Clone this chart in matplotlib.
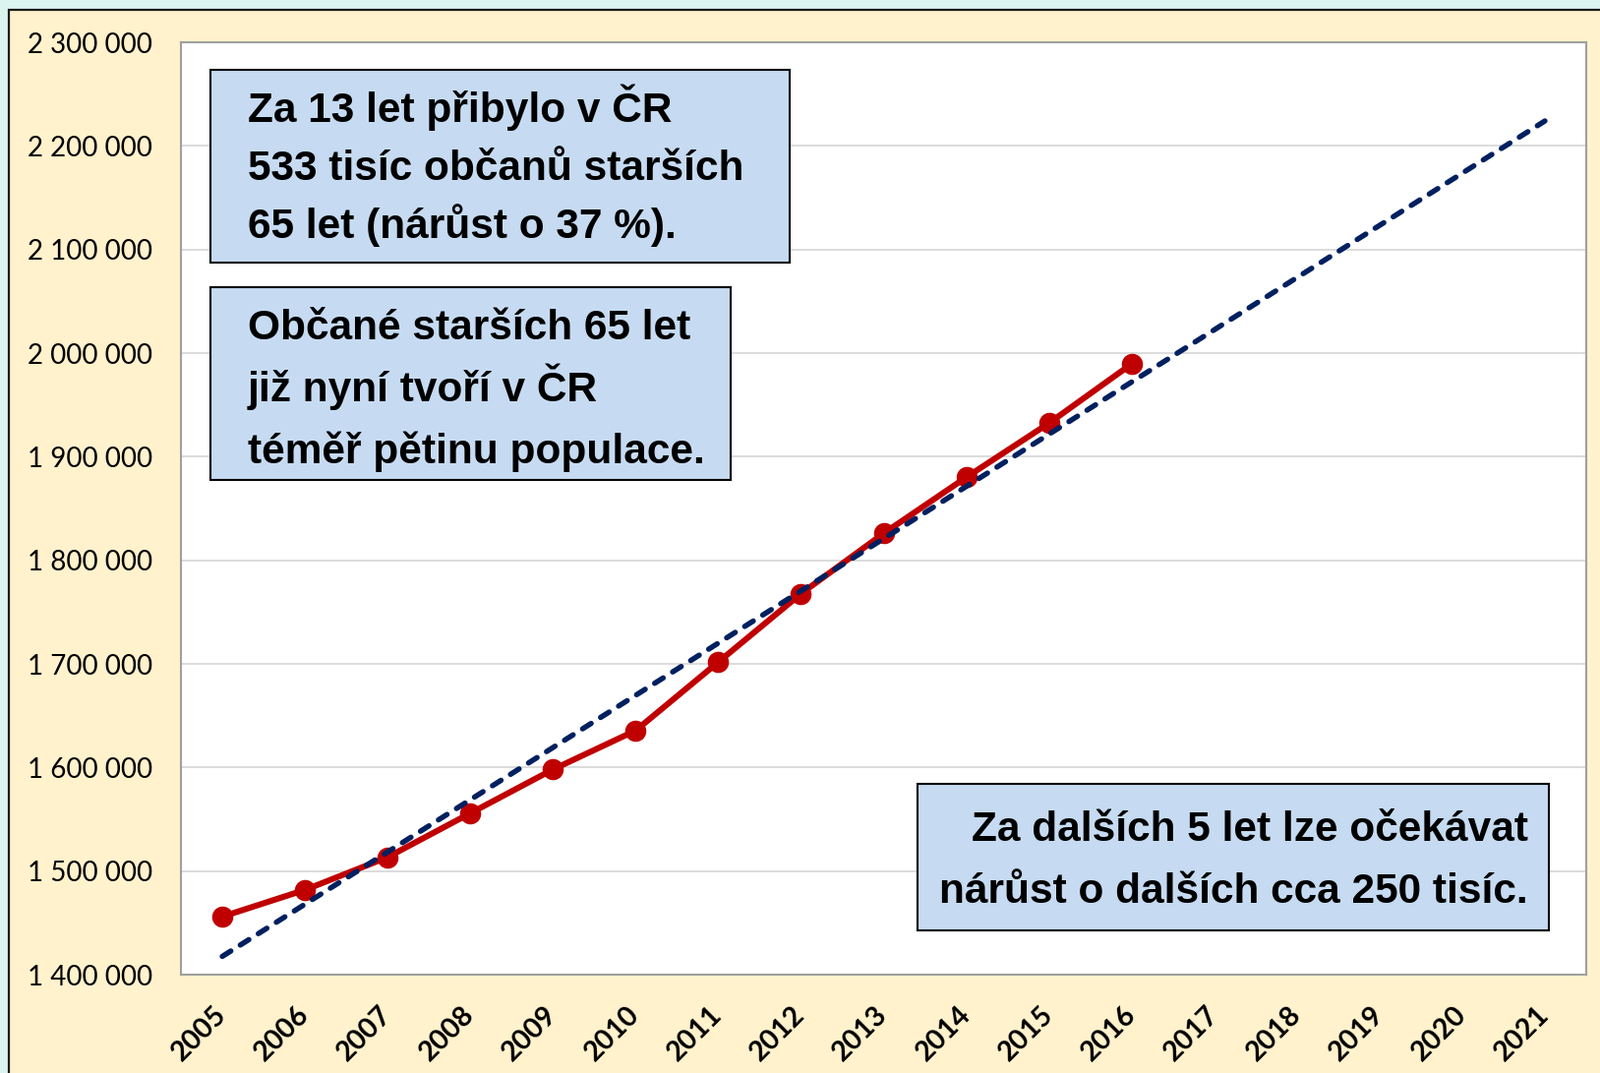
import matplotlib
matplotlib.use("Agg")
import matplotlib.pyplot as plt
from matplotlib.patches import Rectangle
import numpy as np

# data
years = [str(y) for y in range(2005, 2022)]
observed_years = years[:12]
seniors_65plus = [1456000, 1481800, 1513400, 1555800, 1598100, 1635600,
                  1701700, 1767700, 1825900, 1880100, 1932300, 1989500]
yticks = list(range(1400000, 2300001, 100000))

box1_lines = ["Za 13 let přibylo v ČR",
              "533 tisíc občanů starších",
              "65 let (nárůst o 37 %)."]
box2_lines = ["Občané starších 65 let",
              "již nyní tvoří v ČR",
              "téměř pětinu populace."]
box3_lines = ["Za dalších 5 let lze očekávat",
              "nárůst o dalších cca 250 tisíc."]

W, H = 1627, 1091
fig = plt.figure(figsize=(W / 100, H / 100), dpi=100)
fig.patch.set_facecolor("#DCF4F0")

def fx(px):
    return px / W

def fy(py):
    return 1 - py / H

# cream chart area with dark frame (cut off at right/bottom)
fig.patches.append(Rectangle((fx(9), fy(H + 20)), fx(W + 20 - 9), fy(10) - fy(H + 20),
                             transform=fig.transFigure, facecolor="#FFF2CC",
                             edgecolor="#1A1A1A", linewidth=1.6, zorder=-5))

ax = fig.add_axes([fx(184), fy(991), fx(1613) - fx(184), fy(43) - fy(991)])
ax.set_facecolor("white")

x_all = np.arange(len(years))
x_obs = np.arange(len(observed_years))

# linear trend with 5-year forecast
k, q = np.polyfit(x_obs, seniors_65plus, 1)
trend = k * x_all + q

ax.plot(x_obs, seniors_65plus, color="#C00000", lw=4.4, marker="o", ms=14.5,
        solid_capstyle="round", zorder=3)
ax.plot(x_all, trend, color="#002060", lw=3.9, dashes=(1.9, 2.1),
        dash_capstyle="round", zorder=4)

ax.set_xlim(-0.5, len(years) - 0.5)
ax.set_ylim(1400000, 2300000)
ax.set_yticks(yticks)
ax.set_yticklabels([f"{v:,}".replace(",", " ") for v in yticks],
                   ha="left", fontsize=20, family="Lato")
ax.set_xticks(x_all)
ax.set_xticklabels(years, rotation=45, ha="right", va="center",
                   rotation_mode="anchor",
                   fontsize=20.5, family="Lato", fontweight="bold")
ax.tick_params(axis="y", length=0, pad=112)
ax.tick_params(axis="x", length=0, pad=26)
ax.grid(axis="y", color="#D9D9D9", lw=1.3)
ax.set_axisbelow(True)
for s in ax.spines.values():
    s.set_color("#A0A0A0")
    s.set_linewidth(1.5)

# annotation boxes
def note(box, lines, baselines, x, ha):
    x0, y0, x1, y1 = box
    fig.patches.append(Rectangle((fx(x0), fy(y1)), fx(x1) - fx(x0), fy(y0) - fy(y1),
                                 transform=fig.transFigure, facecolor="#C6DBF2",
                                 edgecolor="black", linewidth=1.5, zorder=5))
    for line, b in zip(lines, baselines):
        fig.text(fx(x), fy(b), line, ha=ha, va="baseline", fontsize=30.5,
                 family="Liberation Sans", fontweight="bold", zorder=6)

note((214, 71, 803, 267), box1_lines, [124, 183, 242], 252, "left")
note((214, 292, 743, 488), box2_lines, [345, 408, 471], 252, "left")
note((933, 797, 1575, 946), box3_lines, [855, 918], 1554, "right")

fig.savefig("out.png", dpi=100, facecolor=fig.get_facecolor())
